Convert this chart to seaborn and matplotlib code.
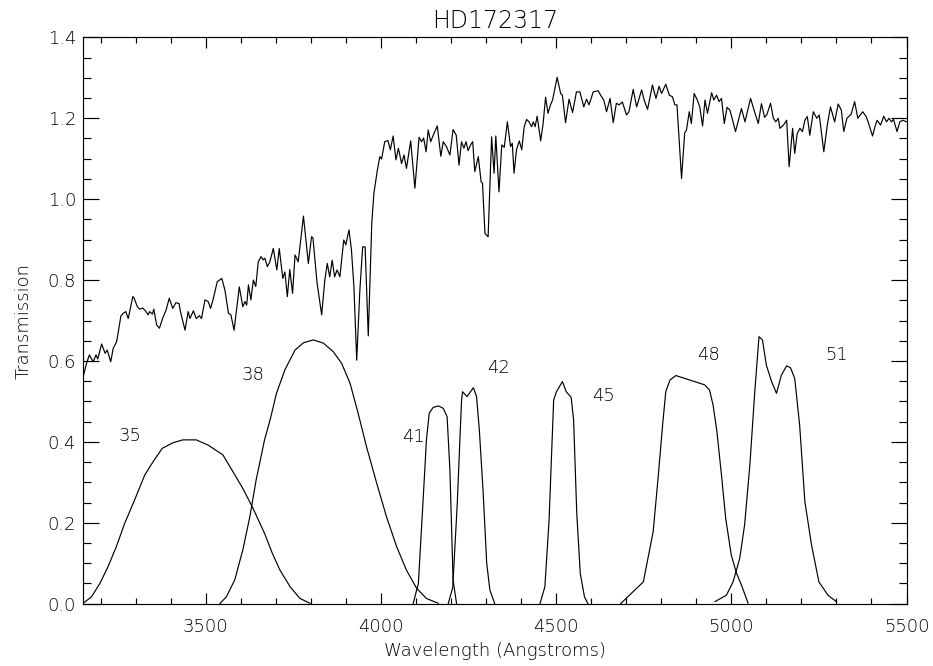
import matplotlib
matplotlib.use("Agg")
import matplotlib.pyplot as plt
import seaborn as sns
import pandas as pd
from matplotlib.ticker import MultipleLocator, FormatStrFormatter

# ---- spectrum of HD172317 (wavelength in Angstrom, relative flux) ----
spec_wave = [3150, 3160, 3168, 3179, 3187, 3192, 3203, 3213, 3219, 3229, 3236, 3246, 3258, 3265, 3272, 3279,
             3292, 3296, 3305, 3312, 3320, 3328, 3336, 3340, 3348, 3352, 3360, 3368, 3377, 3387, 3396, 3406,
             3415, 3424, 3428, 3441, 3450, 3455, 3465, 3473, 3482, 3488, 3498, 3507, 3514, 3522, 3533, 3546,
             3555, 3565, 3572, 3581, 3588, 3596, 3606, 3612, 3617, 3622, 3629, 3636, 3643, 3650, 3658, 3664,
             3669, 3676, 3683, 3693, 3703, 3710, 3720, 3726, 3733, 3740, 3748, 3755, 3764, 3779, 3793, 3802,
             3806, 3818, 3831, 3840, 3847, 3854, 3861, 3868, 3875, 3883, 3894, 3900, 3909, 3916, 3923, 3931,
             3940, 3948, 3955, 3964, 3974, 3980, 3990, 3997, 4002, 4011, 4020, 4027, 4035, 4043, 4050, 4059,
             4066, 4073, 4085, 4097, 4109, 4116, 4122, 4129, 4135, 4142, 4150, 4161, 4171, 4178, 4187, 4197,
             4206, 4215, 4223, 4230, 4237, 4243, 4249, 4256, 4262, 4268, 4278, 4286, 4290, 4297, 4306, 4316,
             4323, 4328, 4337, 4345, 4352, 4361, 4370, 4375, 4380, 4387, 4395, 4402, 4409, 4416, 4423, 4430,
             4435, 4440, 4446, 4456, 4463, 4470, 4477, 4484, 4490, 4503, 4513, 4518, 4527, 4537, 4547, 4558,
             4568, 4579, 4587, 4594, 4606, 4620, 4627, 4636, 4644, 4654, 4663, 4672, 4680, 4689, 4701, 4708,
             4720, 4730, 4744, 4752, 4761, 4775, 4785, 4794, 4801, 4813, 4823, 4832, 4839, 4845, 4858, 4867,
             4872, 4880, 4886, 4894, 4903, 4910, 4918, 4925, 4932, 4944, 4950, 4958, 4965, 4972, 4980, 4988,
             4996, 5001, 5012, 5022, 5029, 5039, 5046, 5055, 5065, 5077, 5086, 5095, 5102, 5112, 5120, 5127,
             5134, 5139, 5149, 5158, 5165, 5175, 5181, 5188, 5196, 5203, 5210, 5217, 5224, 5234, 5244, 5251,
             5264, 5274, 5283, 5295, 5305, 5314, 5321, 5330, 5342, 5352, 5361, 5368, 5375, 5385, 5392, 5403,
             5410, 5416, 5426, 5435, 5443, 5450, 5457, 5463, 5473, 5481, 5490, 5500]
spec_flux = [0.560, 0.594, 0.615, 0.598, 0.615, 0.605, 0.642, 0.619, 0.627, 0.598, 0.631, 0.648, 0.711, 0.718, 0.722, 0.705,
             0.759, 0.755, 0.734, 0.728, 0.731, 0.724, 0.714, 0.722, 0.716, 0.728, 0.689, 0.681, 0.705, 0.726, 0.755, 0.730,
             0.744, 0.742, 0.722, 0.676, 0.722, 0.705, 0.724, 0.705, 0.712, 0.705, 0.751, 0.747, 0.730, 0.755, 0.796, 0.804,
             0.775, 0.718, 0.714, 0.676, 0.726, 0.783, 0.734, 0.747, 0.738, 0.788, 0.751, 0.800, 0.784, 0.845, 0.858, 0.850,
             0.854, 0.833, 0.845, 0.878, 0.825, 0.878, 0.804, 0.820, 0.759, 0.826, 0.767, 0.862, 0.845, 0.958, 0.841, 0.907,
             0.905, 0.792, 0.714, 0.800, 0.841, 0.808, 0.849, 0.808, 0.825, 0.808, 0.899, 0.887, 0.924, 0.874, 0.784, 0.602,
             0.775, 0.882, 0.882, 0.662, 0.940, 1.014, 1.072, 1.105, 1.099, 1.142, 1.145, 1.122, 1.156, 1.097, 1.126, 1.088,
             1.109, 1.076, 1.144, 1.027, 1.153, 1.142, 1.151, 1.117, 1.171, 1.142, 1.159, 1.181, 1.106, 1.142, 1.130, 1.109,
             1.172, 1.158, 1.084, 1.142, 1.126, 1.142, 1.120, 1.134, 1.142, 1.068, 1.105, 1.043, 1.039, 0.915, 0.907, 1.154,
             1.064, 1.156, 1.018, 1.134, 1.128, 1.191, 1.130, 1.138, 1.064, 1.122, 1.144, 1.122, 1.179, 1.197, 1.191, 1.179,
             1.191, 1.179, 1.205, 1.144, 1.187, 1.252, 1.212, 1.233, 1.245, 1.301, 1.261, 1.257, 1.189, 1.247, 1.214, 1.265,
             1.265, 1.228, 1.247, 1.233, 1.265, 1.268, 1.257, 1.245, 1.216, 1.249, 1.189, 1.237, 1.233, 1.240, 1.208, 1.216,
             1.271, 1.228, 1.270, 1.243, 1.222, 1.282, 1.249, 1.279, 1.261, 1.284, 1.257, 1.253, 1.233, 1.233, 1.051, 1.164,
             1.170, 1.216, 1.187, 1.261, 1.245, 1.228, 1.181, 1.245, 1.212, 1.263, 1.245, 1.257, 1.241, 1.249, 1.187, 1.227,
             1.220, 1.204, 1.167, 1.200, 1.224, 1.191, 1.216, 1.249, 1.220, 1.187, 1.236, 1.202, 1.210, 1.237, 1.200, 1.191,
             1.200, 1.175, 1.183, 1.195, 1.080, 1.175, 1.113, 1.162, 1.175, 1.167, 1.195, 1.204, 1.158, 1.216, 1.200, 1.208,
             1.117, 1.183, 1.228, 1.191, 1.235, 1.220, 1.167, 1.200, 1.210, 1.241, 1.200, 1.208, 1.216, 1.204, 1.187, 1.156,
             1.179, 1.195, 1.183, 1.205, 1.191, 1.200, 1.191, 1.197, 1.167, 1.191, 1.195, 1.191]

# ---- filter transmission curves ----
f35_wave = [3150, 3174, 3198, 3221, 3245, 3269, 3297, 3326, 3350, 3376, 3407, 3435, 3473, 3507, 3549, 3578,
            3606, 3635, 3668, 3690, 3712, 3741, 3769, 3798]
f35_tran = [0.001, 0.017, 0.050, 0.091, 0.141, 0.199, 0.256, 0.318, 0.351, 0.384, 0.398, 0.405, 0.405, 0.392, 0.368, 0.326,
            0.285, 0.236, 0.174, 0.125, 0.083, 0.042, 0.013, 0.001]

f38_wave = [3540, 3559, 3583, 3606, 3626, 3644, 3668, 3684, 3702, 3726, 3755, 3779, 3807, 3836, 3864, 3888,
            3912, 3935, 3959, 3988, 4016, 4045, 4073, 4102, 4130, 4164]
f38_tran = [0.000, 0.017, 0.059, 0.133, 0.215, 0.306, 0.405, 0.455, 0.520, 0.578, 0.627, 0.645, 0.652, 0.644, 0.623, 0.594,
            0.545, 0.471, 0.388, 0.298, 0.215, 0.141, 0.083, 0.038, 0.013, 0.001]

f41_wave = [4092, 4107, 4121, 4130, 4138, 4149, 4164, 4178, 4189, 4197, 4206, 4216]
f41_tran = [0.000, 0.050, 0.264, 0.405, 0.471, 0.485, 0.489, 0.483, 0.462, 0.330, 0.059, 0.000]

f42_wave = [4192, 4205, 4218, 4230, 4233, 4246, 4264, 4273, 4281, 4292, 4302, 4311, 4325]
f42_tran = [0.000, 0.040, 0.248, 0.500, 0.524, 0.512, 0.534, 0.512, 0.429, 0.273, 0.100, 0.034, 0.000]

f45_wave = [4454, 4468, 4480, 4493, 4501, 4518, 4529, 4543, 4550, 4559, 4569, 4581, 4591]
f45_tran = [0.000, 0.042, 0.207, 0.503, 0.524, 0.549, 0.524, 0.510, 0.454, 0.223, 0.075, 0.017, 0.000]

f48_wave = [4684, 4720, 4749, 4777, 4791, 4804, 4813, 4825, 4842, 4881, 4924, 4938, 4948, 4959, 4972, 4984,
            5000, 5015, 5029, 5048]
f48_tran = [0.000, 0.030, 0.054, 0.178, 0.310, 0.442, 0.524, 0.553, 0.564, 0.553, 0.541, 0.528, 0.491, 0.425, 0.318, 0.211,
            0.120, 0.075, 0.046, 0.001]

f51_wave = [4953, 4986, 5005, 5024, 5038, 5053, 5067, 5079, 5089, 5100, 5115, 5129, 5143, 5158, 5169, 5181,
            5195, 5210, 5229, 5250, 5276, 5300]
f51_tran = [0.005, 0.021, 0.054, 0.112, 0.195, 0.343, 0.524, 0.660, 0.652, 0.590, 0.549, 0.520, 0.565, 0.588, 0.583, 0.557,
            0.442, 0.252, 0.145, 0.054, 0.021, 0.005]

filter_names = ["35", "38", "41", "42", "45", "48", "51"]
label_wave = [3284, 3636, 4092, 4335, 4634, 4934, 5302]
label_tran = [0.414, 0.565, 0.413, 0.582, 0.513, 0.615, 0.615]

filters = [(f35_wave, f35_tran), (f38_wave, f38_tran), (f41_wave, f41_tran), (f42_wave, f42_tran),
           (f45_wave, f45_tran), (f48_wave, f48_tran), (f51_wave, f51_tran)]

sns.set_style("white")
plt.rcParams['font.family'] = ['DejaVu Sans']
plt.rcParams['font.weight'] = 'light'
plt.rcParams['axes.titleweight'] = 'light'
plt.rcParams['axes.labelweight'] = 'light'
plt.rcParams['text.color'] = 'black'
plt.rcParams['axes.labelcolor'] = 'black'
plt.rcParams['xtick.color'] = 'black'
plt.rcParams['ytick.color'] = 'black'

fig = plt.figure(figsize=(9.33, 6.66), dpi=100)
ax = fig.add_axes([0.089, 0.0935, 0.8826, 0.8505])

LW = 0.85

spec_df = pd.DataFrame({"Wavelength": spec_wave, "Transmission": spec_flux})
sns.lineplot(data=spec_df, x="Wavelength", y="Transmission", ax=ax, color="black",
             linewidth=LW, sort=False, estimator=None)

for (w, t) in filters:
    df = pd.DataFrame({"Wavelength": w, "Transmission": t})
    sns.lineplot(data=df, x="Wavelength", y="Transmission", ax=ax, color="black",
                 linewidth=LW, sort=False, estimator=None)

for name, lw_, lt in zip(filter_names, label_wave, label_tran):
    ax.text(lw_, lt, name, ha="center", va="center", fontsize=13, color="black", fontweight="light")

ax.set_xlim(3150, 5500)
ax.set_ylim(0.0, 1.4)
ax.xaxis.set_major_locator(MultipleLocator(500))
ax.xaxis.set_minor_locator(MultipleLocator(100))
ax.yaxis.set_major_locator(MultipleLocator(0.2))
ax.yaxis.set_minor_locator(MultipleLocator(0.05))
ax.yaxis.set_major_formatter(FormatStrFormatter("%.1f"))

for s in ax.spines.values():
    s.set_visible(True)
    s.set_color("black")
    s.set_linewidth(LW)

ax.tick_params(axis="x", which="major", direction="in", length=7.7, width=LW, top=True, bottom=True,
               labelsize=13, pad=10.5)
ax.tick_params(axis="x", which="minor", direction="in", length=4.0, width=LW, top=True, bottom=True)
ax.tick_params(axis="y", which="major", direction="in", length=11.5, width=LW, left=True, right=True,
               labelsize=13, pad=5)
ax.tick_params(axis="y", which="minor", direction="in", length=5.8, width=LW, left=True, right=True)

ax.set_xlabel("Wavelength (Angstroms)", fontsize=13, labelpad=4)
ax.set_ylabel("Transmission", fontsize=13, labelpad=11)
ax.set_title("HD172317", fontsize=17, pad=7)

fig.savefig("out.png", dpi=100)
